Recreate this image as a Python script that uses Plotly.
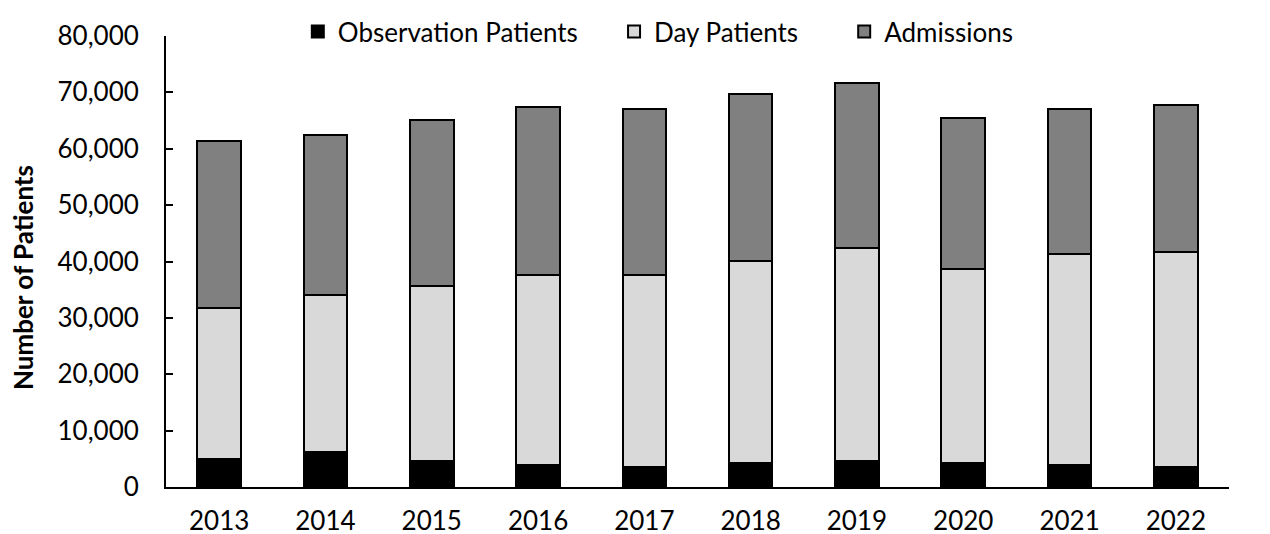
import plotly.graph_objects as go

# Données
annees = ["2013", "2014", "2015", "2016", "2017", "2018", "2019", "2020", "2021", "2022"]
observation = [5050, 6200, 4700, 3900, 3550, 4250, 4700, 4250, 3850, 3550]
jour = [26700, 27900, 30900, 33650, 34000, 35850, 37700, 34350, 37450, 38050]
admissions = [29550, 28400, 29500, 29850, 29450, 29600, 29200, 26900, 25700, 26200]

POLICE = "Lato, 'Open Sans', sans-serif"

# une légende par série pour reproduire l'espacement d'origine
series = [
    ("Observation Patients", observation, "#000000", "legend", 0.124),
    ("Day Patients", jour, "#d9d9d9", "legend2", 0.4215),
    ("Admissions", admissions, "#808080", "legend3", 0.638),
]

fig = go.Figure()
legendes = {}
for nom, valeurs, couleur, leg, pos in series:
    fig.add_bar(
        x=annees, y=valeurs, name=nom, legend=leg, showlegend=True,
        marker=dict(color=couleur, line=dict(color="#000000", width=2)),
    )
    legendes[leg] = dict(
        orientation="h",
        x=pos, xanchor="left",
        yref="container", y=1.0, yanchor="top",
        font=dict(size=26),
        bgcolor="rgba(0,0,0,0)",
    )

fig.update_layout(
    barmode="stack",
    bargap=0.59,
    showlegend=True,
    width=1270, height=534,
    margin=dict(l=158, r=49, t=28, b=55, autoexpand=False),
    paper_bgcolor="white",
    plot_bgcolor="white",
    font=dict(family=POLICE, size=26, color="#000000"),
    **legendes,
)
# Titre de l'axe Y (placé comme dans l'original, un peu sous le milieu)
fig.add_annotation(
    text="<b>Number of Patients</b>", textangle=-90, showarrow=False,
    xref="paper", yref="paper", x=-0.1345, y=0.4634,
    xanchor="center", yanchor="middle",
    font=dict(size=26),
)
fig.update_xaxes(
    showline=True, linecolor="#000000", linewidth=2,
    ticks="", showgrid=False, ticklabelstandoff=10,
)
fig.update_yaxes(
    range=[0, 80000], dtick=10000, tickformat=",",
    showline=True, linecolor="#000000", linewidth=2,
    ticks="inside", ticklen=7, tickcolor="#000000", tickwidth=1.5,
    showgrid=False, zeroline=False, ticklabelstandoff=20,
)

fig.write_html("out.html")
